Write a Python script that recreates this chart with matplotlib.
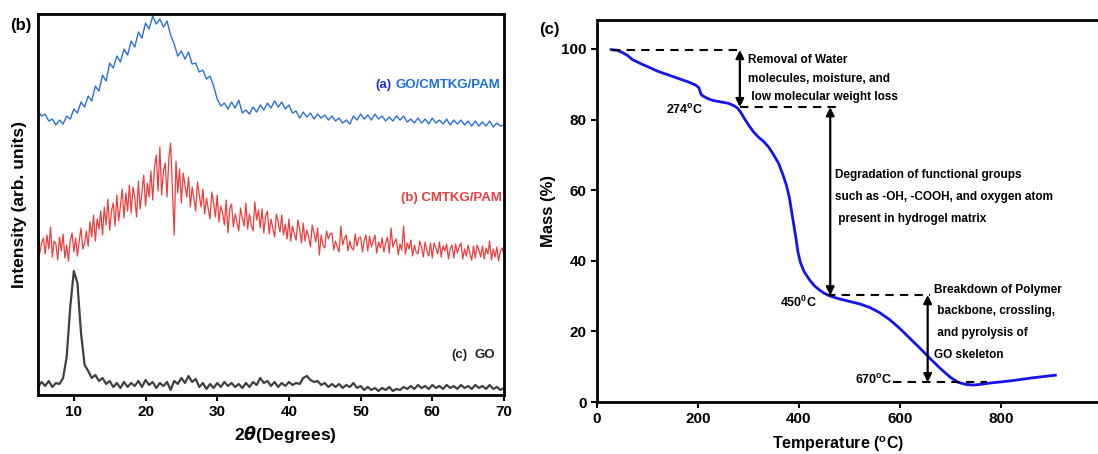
import numpy as np
import matplotlib
matplotlib.use("Agg")
import matplotlib.pyplot as plt

plt.rcParams["font.family"] = ["Liberation Sans", "DejaVu Sans"]
plt.rcParams["font.weight"] = "bold"

# --- XRD patterns (2theta in degrees) ---
two_theta_coarse = np.arange(5.0, 70.01, 0.5)
two_theta_fine = np.arange(5.0, 70.01, 0.25)

go_cmtkg_pam = [
    19, 14, 16, 9, 11, 5, 10, 6, 14, 11, 21, 17, 28, 23, 34, 29, 44, 39, 55, 49,
    67, 62, 74, 68, 81, 75, 89, 83, 98, 92, 107, 101, 114, 106, 111, 103, 109, 95, 86, 74,
    79, 71, 78, 66, 67, 58, 60, 51, 54, 44, 31, 24, 27, 21, 28, 22, 30, 17, 20, 16,
    23, 18, 25, 20, 27, 22, 29, 23, 28, 21, 25, 17, 19, 12, 18, 13, 17, 11, 16, 12,
    15, 10, 14, 9, 12, 7, 10, 6, 14, 10, 16, 11, 15, 10, 16, 11, 14, 9, 13, 9,
    14, 10, 14, 8, 11, 7, 12, 7, 11, 6, 12, 7, 10, 6, 11, 5, 10, 6, 10, 5,
    9, 4, 9, 4, 8, 4, 9, 3, 7, 4, 5,
]

cmtkg_pam = [
    24, 2, 12, 17, 1, 20, 6, 28, -2, 14, 11, -5, 18, 4, 21, -3, 10, -6, 15, 22,
    3, 17, -1, 14, 27, 6, 12, 24, 9, 33, 18, 40, 14, 36, 26, 44, 20, 48, 30, 56,
    25, 44, 52, 29, 60, 34, 49, 66, 37, 62, 44, 70, 42, 68, 57, 38, 74, 46, 63, 80,
    49, 72, 58, 84, 55, 88, 100, 64, 108, 60, 84, 92, 58, 96, 112, 66, 20, 94, 62, 86,
    52, 82, 70, 58, 78, 48, 68, 57, 44, 73, 60, 48, 66, 41, 57, 46, 36, 63, 52, 38,
    60, 33, 49, 42, 30, 55, 22, 46, 51, 28, 41, 33, 24, 47, 37, 29, 52, 26, 41, 30,
    24, 53, 35, 45, 27, 46, 22, 39, 44, 21, 36, 27, 18, 41, 33, 23, 40, 20, 31, 16,
    36, 14, 29, 21, 15, 35, 26, 12, 32, 14, 25, 18, 8, 30, 22, 13, 27, 0, 20, 10,
    7, 24, 16, 21, 22, 5, 14, 8, 3, 29, 10, 17, 20, 4, 14, 7, 5, 21, 9, 17,
    18, 3, 14, 20, 4, 19, 8, 14, 20, 2, 13, 7, 17, 3, 12, 18, 2, 27, 8, 13,
    16, 0, 11, 5, 29, 1, 12, 6, 15, -1, 10, 3, 1, 14, 8, -2, 13, 4, -1, 12,
    -3, 12, 7, 1, 13, -2, 9, 4, 11, -4, 6, 10, -3, 11, 2, 8, 12, -4, 6, -1,
    10, 1, -5, 9, -3, 10, 5, -2, 9, -4, 7, 1, 14, -5, 6, -2, 8, -6, 4, 7,
    0,
]

go = [
    8, 13, 9, 14, 8, 12, 11, 17, 38, 88, 124, 112, 62, 30, 24, 17, 20, 14, 17, 11,
    14, 8, 12, 7, 13, 8, 12, 9, 14, 8, 15, 10, 13, 7, 12, 9, 13, 5, 14, 11,
    17, 12, 19, 13, 16, 8, 12, 6, 11, 7, 12, 8, 13, 9, 12, 8, 11, 7, 12, 8,
    13, 10, 17, 12, 14, 9, 13, 8, 12, 9, 13, 10, 12, 11, 17, 19, 15, 13, 14, 10,
    12, 8, 11, 8, 11, 7, 10, 8, 12, 7, 9, 5, 8, 5, 7, 4, 7, 5, 8, 4,
    6, 5, 8, 6, 9, 6, 10, 7, 9, 6, 10, 7, 9, 6, 10, 7, 9, 6, 10, 7,
    9, 6, 10, 7, 9, 6, 10, 6, 8, 5, 7,
]

# vertical stacking of the three patterns
offset_a = 265
offset_b = 140
offset_c = 0

# --- TGA curve ---
temperature = [28, 40, 50, 60, 70, 80, 90, 100, 120, 140, 160, 180, 195, 202, 204,
               207, 212, 220, 230, 245, 260, 270, 278, 285, 292, 300, 310, 320,
               330, 340, 350, 360, 368, 375, 381, 386, 390, 394, 398, 403, 410,
               420, 430, 440, 450, 462, 480, 500, 520, 540, 560, 580, 600, 620,
               640, 660, 680, 700, 715, 730, 745, 760, 780, 820, 860, 908]
mass = [99.8, 99.6, 99.0, 98.2, 97.0, 96.3, 95.6, 95.0, 93.7, 92.7, 91.7, 90.7,
        89.8, 89.0, 88.0, 87.0, 86.5, 85.9, 85.4, 85.0, 84.6, 84.0, 83.3, 82.0,
        80.3, 78.5, 76.5, 75.0, 73.8, 72.2, 70.0, 67.5, 64.5, 61.5, 58.0, 53.5,
        50.0, 46.5, 42.5, 39.5, 37.0, 34.8, 33.0, 31.8, 30.8, 30.0, 29.2, 28.5,
        27.8, 26.8, 25.3, 23.3, 20.8, 18.0, 15.2, 12.3, 9.5, 7.0, 5.6, 5.0, 4.8,
        5.0, 5.4, 6.0, 6.8, 7.6]

fig = plt.figure(figsize=(10.98, 4.54), dpi=100)

# ---------- left: XRD ----------
ax1 = fig.add_axes([0.0346, 0.130, 0.4244, 0.839])
ax1.plot(two_theta_coarse, np.array(go_cmtkg_pam) + offset_a, color="#2a6fdb", lw=1.0)
ax1.plot(two_theta_fine, np.array(cmtkg_pam) + offset_b, color="#f03c3c", lw=0.9)
ax1.plot(two_theta_coarse, np.array(go) + offset_c, color="#404040", lw=1.6)
ax1.set_xlim(5, 70)
ax1.set_ylim(0, 381)
ax1.set_xticks([10, 20, 30, 40, 50, 60, 70])
ax1.set_yticks([])
ax1.tick_params(axis="x", direction="out", length=4, width=1.5, labelsize=11)
for s in ax1.spines.values():
    s.set_linewidth(2.0)
ax1.set_xlabel(r"2$\mathit{\theta}$(Degrees)", fontsize=12.5, fontweight="bold")
ax1.xaxis.set_label_coords(0.532, -0.075)
ax1.set_ylabel("Intensity (arb. units)", fontsize=12.5, fontweight="bold", labelpad=8)

ax1.text(52.0, 310, "(a)", color="#2030c8", fontsize=9.5, fontweight="bold", va="center")
ax1.text(54.9, 310, "GO/CMTKG/PAM", color="#1e6ee0", fontsize=9.5, fontweight="bold", va="center")
ax1.text(55.6, 197, "(b) CMTKG/PAM", color="#f03c3c", fontsize=9.5, fontweight="bold", va="center")
ax1.text(62.7, 40, "(c)", color="#202020", fontsize=9.5, fontweight="bold", va="center")
ax1.text(65.9, 40, "GO", color="#202020", fontsize=9.5, fontweight="bold", va="center")
fig.text(0.009, 0.935, "(b)", fontsize=12, fontweight="bold")

# ---------- right: TGA ----------
ax2 = fig.add_axes([0.5437, 0.1145, 0.4575, 0.8415])
ax2.plot(temperature, mass, color="#1414f0", lw=2.0)
ax2.set_xlim(0, 995)
ax2.set_ylim(0, 108.2)
ax2.set_xticks([0, 200, 400, 600, 800])
ax2.set_yticks([0, 20, 40, 60, 80, 100])
ax2.tick_params(direction="out", length=4, width=1.5, labelsize=11)
for s in ax2.spines.values():
    s.set_linewidth(2.0)
ax2.spines["right"].set_visible(False)
ax2.set_xlabel("Temperature ($\\mathregular{^o}$C)", fontsize=11.5, fontweight="bold")
ax2.xaxis.set_label_coords(0.48, -0.085)
ax2.set_ylabel("Mass (%)", fontsize=12, fontweight="bold", labelpad=4)
fig.text(0.491, 0.925, "(c)", fontsize=12, fontweight="bold")

dash = dict(color="black", lw=1.5, ls=(0, (4, 3)))
arrow = dict(arrowstyle="<|-|>", color="black", lw=1.6, mutation_scale=12, shrinkA=0, shrinkB=0)

# water removal step
ax2.plot([30, 283], [99.7, 99.7], **dash)
ax2.plot([284, 475], [83.5, 83.5], **dash)
ax2.annotate("", xy=(283, 99.7), xytext=(283, 83.5), arrowprops=arrow)
ax2.text(299, 97.0, "Removal of Water", fontsize=8.5, fontweight="bold", va="center")
ax2.text(299, 91.6, "molecules, moisture, and", fontsize=8.5, fontweight="bold", va="center")
ax2.text(299, 86.3, " low molecular weight loss", fontsize=8.5, fontweight="bold", va="center")
ax2.text(137, 82.8, "274$\\mathregular{^o}$C", fontsize=9, fontweight="bold", va="center")

# functional group degradation
ax2.annotate("", xy=(462, 83.5), xytext=(462, 30.2), arrowprops=arrow)
ax2.text(471, 64.2, "Degradation of functional groups", fontsize=8.5, fontweight="bold", va="center")
ax2.text(471, 58.1, "such as -OH, -COOH, and oxygen atom", fontsize=8.5, fontweight="bold", va="center")
ax2.text(471, 51.8, " present in hydrogel matrix", fontsize=8.5, fontweight="bold", va="center")
ax2.text(363, 28.3, "450$\\mathregular{^0}$C", fontsize=9, fontweight="bold", va="center")

# backbone breakdown
ax2.plot([455, 660], [30.3, 30.3], **dash)
ax2.plot([586, 772], [5.6, 5.6], **dash)
ax2.annotate("", xy=(655, 30.3), xytext=(655, 5.6), arrowprops=arrow)
ax2.text(667, 31.8, "Breakdown of Polymer", fontsize=8.5, fontweight="bold", va="center")
ax2.text(667, 25.7, " backbone, crossling,", fontsize=8.5, fontweight="bold", va="center")
ax2.text(667, 19.5, " and pyrolysis of", fontsize=8.5, fontweight="bold", va="center")
ax2.text(667, 13.4, "GO skeleton", fontsize=8.5, fontweight="bold", va="center")
ax2.text(511, 6.2, "670$\\mathregular{^o}$C", fontsize=9, fontweight="bold", va="center")

fig.savefig("out.png", dpi=100)
